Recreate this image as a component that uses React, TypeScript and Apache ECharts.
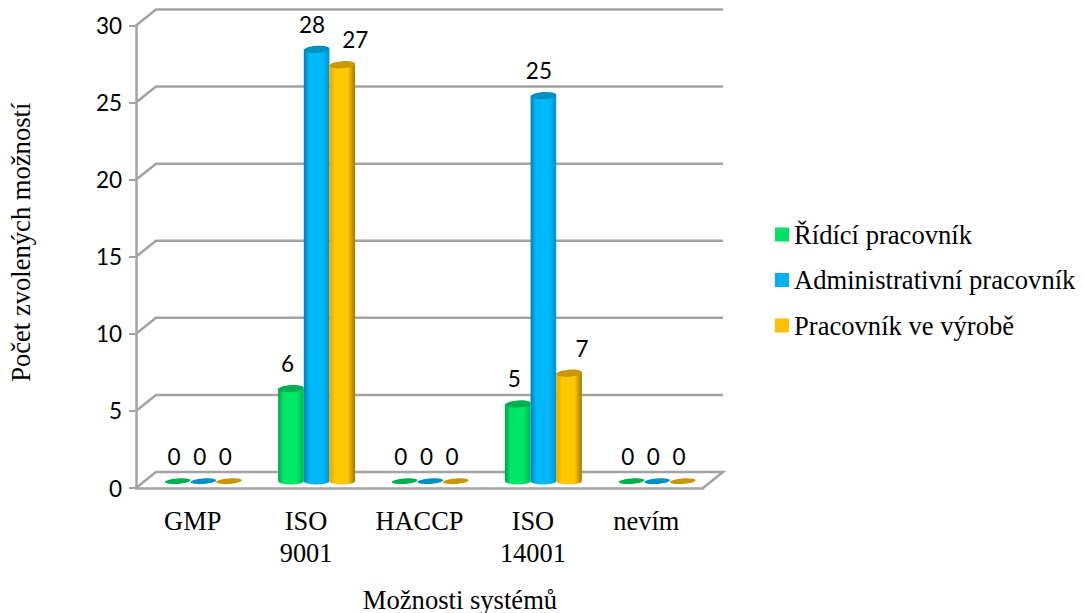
import React, { useEffect, useRef } from "react";
import * as echarts from "echarts";

const categories = ["GMP", "ISO\n9001", "HACCP", "ISO\n14001", "nevím"];
const managers = [0, 6, 0, 5, 0];
const administrators = [0, 28, 0, 25, 0];
const production = [0, 27, 0, 7, 0];
const wallTicks = [0, 5, 10, 15, 20, 25, 30];

const SERIF = "'Liberation Serif', 'Times New Roman', serif";
const DIGITS = "Lato, 'Open Sans', sans-serif";
const GRID_GREY = "#A3A3A3";

// Pseudo-3D room: the back wall sits up and to the right of the front plane.
const DEPTH_X = 20;
const DEPTH_Y = 16;
// Columns stand midway through the room's depth.
const BAR_SHIFT_X = 10.5;
const BAR_SHIFT_Y = 7;
const BAR_WIDTH_RATIO = 0.226;

function App() {
  const ref = useRef<HTMLDivElement>(null);

  useEffect(() => {
    const chart = echarts.init(ref.current!, undefined, { renderer: "svg" });

    const renderWall = (params: any, api: any) => {
      const value = api.value(1);
      const cs = params.coordSys;
      const y = api.coord([0, value])[1];
      const left = cs.x;
      const right = cs.x + cs.width;
      const lineStyle = { stroke: GRID_GREY, lineWidth: 2.5, fill: "none" };
      const points =
        value === 0
          ? [
              [left, y],
              [left + DEPTH_X, y - DEPTH_Y],
              [right + DEPTH_X, y - DEPTH_Y],
              [right, y],
            ]
          : [
              [left, y],
              [left + DEPTH_X, y - DEPTH_Y],
              [right + DEPTH_X, y - DEPTH_Y],
            ];
      return { type: "polyline", shape: { points }, style: lineStyle };
    };

    const makeColumn =
      (slot: number, body: string[], cap: string, labelShift: number) =>
      (_params: any, api: any) => {
        const cat = api.value(0);
        const value = api.value(1);
        const top = api.coord([cat, value]);
        const base = api.coord([cat, 0]);
        const w = api.size([1, 0])[0] * BAR_WIDTH_RATIO;
        const cx = top[0] + BAR_SHIFT_X + slot * w;
        const topY = top[1] - BAR_SHIFT_Y;
        const baseY = base[1] - BAR_SHIFT_Y;
        const rx = w / 2;
        const ry = 3.6;
        const children: any[] = [];
        if (value > 0) {
          children.push({
            type: "path",
            shape: {
              pathData: `M${cx - rx} ${topY}L${cx - rx} ${baseY}A${rx} ${ry} 0 0 0 ${cx + rx} ${baseY}L${cx + rx} ${topY}Z`,
            },
            style: {
              fill: new echarts.graphic.LinearGradient(0, 0, 1, 0, [
                { offset: 0, color: body[0] },
                { offset: 0.22, color: body[1] },
                { offset: 0.72, color: body[1] },
                { offset: 1, color: body[2] },
              ]),
            },
          });
        }
        children.push({
          type: "ellipse",
          shape: { cx, cy: topY, rx, ry: value > 0 ? ry : 2.8 },
          originX: cx,
          originY: topY,
          rotation: 0.07,
          style: { fill: cap },
        });
        children.push({
          type: "text",
          x: cx + (value > 0 ? labelShift : -3.5),
          y: topY - 25,
          style: {
            text: String(value),
            fill: "#000",
            font: `22.5px ${DIGITS}`,
            align: "center",
            verticalAlign: "middle",
          },
        });
        return { type: "group", children };
      };

    const columnSeries = (
      name: string,
      values: number[],
      slot: number,
      legendColor: string,
      body: string[],
      cap: string,
      labelShift: number,
    ) => ({
      name,
      type: "custom",
      coordinateSystem: "cartesian2d",
      clip: false,
      z: 5,
      itemStyle: { color: legendColor },
      encode: { x: 0, y: 1 },
      data: values.map((v, i) => [i, v]),
      renderItem: makeColumn(slot, body, cap, labelShift),
    });

    chart.setOption({
      animation: false,
      backgroundColor: "#fff",
      grid: { left: 136, right: 380, top: 25.5, bottom: 125, containLabel: false, outerBoundsMode: "none" },
      legend: {
        orient: "vertical",
        left: 770,
        top: 215.5,
        data: ["Řídící pracovník", "Administrativní pracovník", "Pracovník ve výrobě"],
        icon: "rect",
        itemWidth: 14,
        itemHeight: 14,
        itemGap: 17.5,
        textStyle: { fontFamily: SERIF, fontSize: 26.6, color: "#000", lineHeight: 28 },
      },
      xAxis: {
        type: "category",
        data: categories,
        axisLine: { lineStyle: { color: GRID_GREY, width: 2.5 } },
        axisTick: { length: 9, lineStyle: { color: GRID_GREY, width: 2 } },
        axisLabel: {
          fontFamily: SERIF,
          fontSize: 26.4,
          color: "#000",
          lineHeight: 32,
          margin: 17,
          interval: 0,
        },
        name: "Možnosti systémů",
        nameLocation: "middle",
        nameGap: 98,
        nameTextStyle: { fontFamily: SERIF, fontSize: 26.6, color: "#000", padding: [0, 0, 0, 81] },
      },
      yAxis: {
        type: "value",
        min: 0,
        max: 30,
        interval: 5,
        axisLine: { show: true, lineStyle: { color: GRID_GREY, width: 2.5 } },
        axisTick: { show: true, length: 7, lineStyle: { color: GRID_GREY, width: 2 } },
        axisLabel: { fontFamily: DIGITS, fontSize: 22.5, color: "#000", margin: 14 },
        splitLine: { show: false },
        name: "Počet zvolených možností",
        nameLocation: "middle",
        nameGap: 102,
        nameTextStyle: { fontFamily: SERIF, fontSize: 26.6, color: "#000", padding: [0, 0, 0, 29] },
      },
      series: [
        {
          type: "custom",
          coordinateSystem: "cartesian2d",
          clip: false,
          silent: true,
          z: 1,
          encode: { x: 0, y: 1 },
          data: wallTicks.map((t) => [0, t]),
          renderItem: renderWall,
        },
        columnSeries("Řídící pracovník", managers, -1, "#00E266", ["#00A34C", "#00E866", "#00B552"], "#00B050", -3.5),
        columnSeries("Administrativní pracovník", administrators, 0, "#00B0F0", ["#0080B4", "#00B8FA", "#0094CE"], "#0090C4", -4.5),
        columnSeries("Pracovník ve výrobě", production, 1, "#FFC000", ["#E2AA00", "#FFC800", "#A07A00"], "#C99700", 13),
      ],
    });

    return () => chart.dispose();
  }, []);

  return <div ref={ref} style={{ position: "absolute", left: 0, top: 0, width: 1083, height: 613 }} />;
}

export default App;
